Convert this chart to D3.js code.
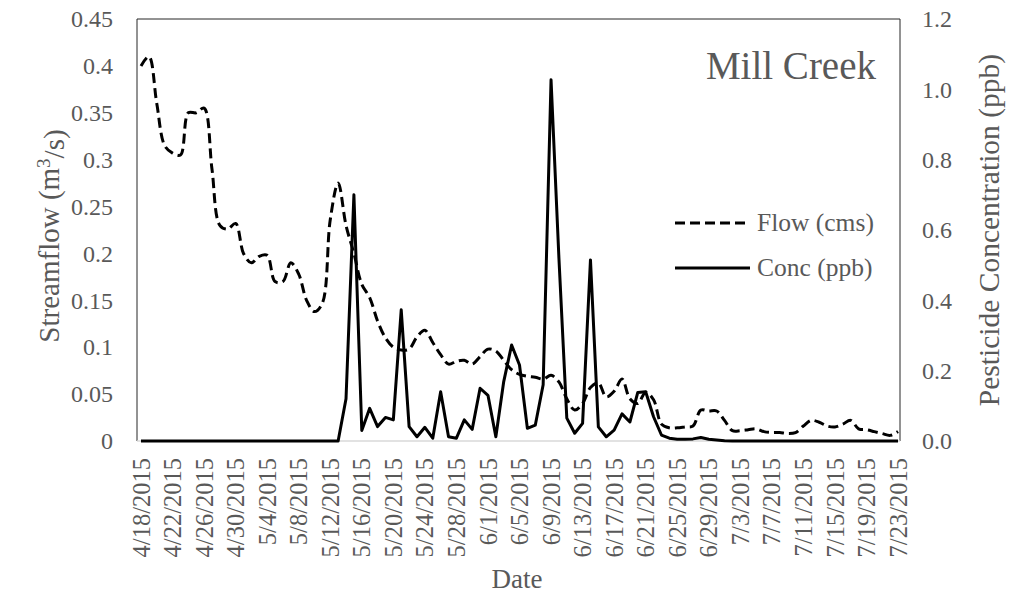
<!DOCTYPE html>
<html lang="en">
<head>
    <meta charset="utf-8">
    <script src="https://d3js.org/d3.v7.min.js"></script>
    <style>
        body { margin: 0; background: white; }
        text { font-family: "Liberation Serif", "Times New Roman", serif; fill: #595959; }
    </style>
</head>
<body>
    <div id="chart"></div>
<script>
    const startDate = "2015-04-18"
    const flow = [0.40, 0.41, 0.36, 0.315, 0.307, 0.305, 0.35, 0.35, 0.355, 0.29,
        0.23, 0.226, 0.232, 0.20, 0.19, 0.197, 0.198, 0.17, 0.17, 0.19,
        0.178, 0.15, 0.138, 0.147, 0.236, 0.275, 0.23, 0.20, 0.167, 0.153,
        0.128, 0.11, 0.10, 0.097, 0.098, 0.111, 0.118, 0.105, 0.092, 0.082,
        0.085, 0.086, 0.082, 0.09, 0.098, 0.096, 0.086, 0.076, 0.071, 0.069,
        0.068, 0.066, 0.07, 0.063, 0.045, 0.033, 0.04, 0.057, 0.062, 0.047,
        0.053, 0.066, 0.045, 0.04, 0.052, 0.044, 0.018, 0.014, 0.014, 0.015,
        0.016, 0.033, 0.032, 0.032, 0.022, 0.011, 0.011, 0.012, 0.013, 0.01,
        0.009, 0.009, 0.008, 0.009, 0.016, 0.022, 0.02, 0.016, 0.015, 0.018,
        0.022, 0.013, 0.012, 0.01, 0.008, 0.006, 0.01]
    const conc = [0, 0, 0, 0, 0, 0, 0, 0, 0, 0,
        0, 0, 0, 0, 0, 0, 0, 0, 0, 0,
        0, 0, 0, 0, 0, 0, 0.12, 0.70, 0.03, 0.093,
        0.041, 0.067, 0.06, 0.373, 0.041, 0.012, 0.039, 0.008, 0.14, 0.012,
        0.008, 0.06, 0.033, 0.15, 0.13, 0.012, 0.169, 0.273, 0.216, 0.036,
        0.045, 0.16, 1.027, 0.52, 0.065, 0.022, 0.05, 0.515, 0.04, 0.012,
        0.031, 0.077, 0.054, 0.138, 0.14, 0.069, 0.017, 0.008, 0.005, 0.005,
        0.006, 0.01, 0.005, 0.003, 0.001, 0, 0, 0, 0, 0,
        0, 0, 0, 0, 0, 0, 0, 0, 0, 0,
        0, 0, 0, 0, 0, 0, 0]
    const leftTicks = [0, 0.05, 0.1, 0.15, 0.2, 0.25, 0.3, 0.35, 0.4, 0.45]
    const rightTicks = [0, 0.2, 0.4, 0.6, 0.8, 1.0, 1.2]
    const seriesNames = ["Flow (cms)", "Conc (ppb)"]
    const title = "Mill Creek"

    const width = 1014
    const height = 595
    const box = {left: 137, right: 900, top: 19, bottom: 441}

    const start = d3.timeParse("%Y-%m-%d")(startDate)
    const dates = flow.map((v, i) => d3.timeDay.offset(start, i))

    const xScale = d3.scaleTime().domain(d3.extent(dates)).range([141, 898])
    const yLeft = d3.scaleLinear().domain([0, 0.45]).range([box.bottom, box.top])
    const yRight = d3.scaleLinear().domain([0, 1.2]).range([box.bottom, box.top])

    const svg = d3.select("div#chart").append("svg")
        .attr("width", width)
        .attr("height", height)

    // plot frame
    svg.append("path")
        .attr("d", `M${box.left},${box.bottom}V${box.top}H${box.right}V${box.bottom}`)
        .attr("fill", "none")
        .attr("stroke", "#262626")
        .attr("stroke-width", 1)
    svg.append("line")
        .attr("x1", box.left).attr("x2", box.right)
        .attr("y1", box.bottom).attr("y2", box.bottom)
        .attr("stroke", "#d9d9d9")
        .attr("stroke-width", 1.5)

    const yAxisL = svg.append("g")
        .attr("transform", "translate(" + box.left + ",0)")
        .call(d3.axisLeft(yLeft).tickValues(leftTicks).tickSize(0).tickPadding(24).tickFormat(d => d))
    yAxisL.select(".domain").remove()
    yAxisL.selectAll("text").style("font-size", "24px").attr("fill", "#595959")

    const yAxisR = svg.append("g")
        .attr("transform", "translate(" + box.right + ",0)")
        .call(d3.axisRight(yRight).tickValues(rightTicks).tickSize(0).tickPadding(22).tickFormat(d3.format(".1f")))
    yAxisR.select(".domain").remove()
    yAxisR.selectAll("text").style("font-size", "24px").attr("fill", "#595959")

    const xAxis = svg.append("g")
        .attr("transform", "translate(0," + box.bottom + ")")
        .call(d3.axisBottom(xScale)
            .tickValues(dates.filter((d, i) => i % 4 == 0))
            .tickSize(0)
            .tickFormat(d3.timeFormat("%-m/%-d/%Y")))
    xAxis.select(".domain").remove()
    xAxis.selectAll("text")
        .attr("y", 0)
        .attr("x", -17)
        .attr("dy", "0.33em")
        .attr("transform", "rotate(-90)")
        .style("text-anchor", "end")
        .style("font-size", "24.5px")
        .attr("fill", "#595959")

    const flowLine = d3.line()
        .x((d, i) => xScale(dates[i]))
        .y(d => yLeft(d))
        .curve(d3.curveCatmullRom.alpha(0.5))
    const concLine = d3.line()
        .x((d, i) => xScale(dates[i]))
        .y(d => yRight(d))

    svg.append("path")
        .attr("d", flowLine(flow))
        .attr("fill", "none")
        .attr("stroke", "black")
        .attr("stroke-width", 3)
        .attr("stroke-dasharray", "10,5")

    svg.append("path")
        .attr("d", concLine(conc))
        .attr("fill", "none")
        .attr("stroke", "black")
        .attr("stroke-width", 3)
        .attr("stroke-linejoin", "round")

    // legend
    const legend = svg.append("g")
    seriesNames.forEach((name, i) => {
        const ly = 223 + i * 45
        legend.append("line")
            .attr("x1", 675).attr("x2", 750)
            .attr("y1", ly).attr("y2", ly)
            .attr("stroke", "black")
            .attr("stroke-width", 3)
            .attr("stroke-dasharray", i == 0 ? "10,5" : null)
        legend.append("text")
            .attr("x", 757)
            .attr("y", ly + 8)
            .style("font-size", "25.5px")
            .text(name)
    })

    svg.append("text")
        .attr("x", 876)
        .attr("y", 79)
        .style("text-anchor", "end")
        .style("font-size", "39px")
        .text(title)

    const leftTitle = svg.append("text")
        .attr("transform", "translate(59,236) rotate(-90)")
        .style("text-anchor", "middle")
        .style("font-size", "29px")
    leftTitle.append("tspan").text("Streamflow (m")
    leftTitle.append("tspan").attr("dy", "-0.45em").style("font-size", "19px").text("3")
    leftTitle.append("tspan").attr("dy", "0.45em").text("/s)")

    svg.append("text")
        .attr("transform", "translate(999,230) rotate(-90)")
        .style("text-anchor", "middle")
        .style("font-size", "29.5px")
        .text("Pesticide Concentration (ppb)")

    svg.append("text")
        .attr("x", 517)
        .attr("y", 588)
        .style("text-anchor", "middle")
        .style("font-size", "27px")
        .text("Date")
</script>
</body>
</html>
